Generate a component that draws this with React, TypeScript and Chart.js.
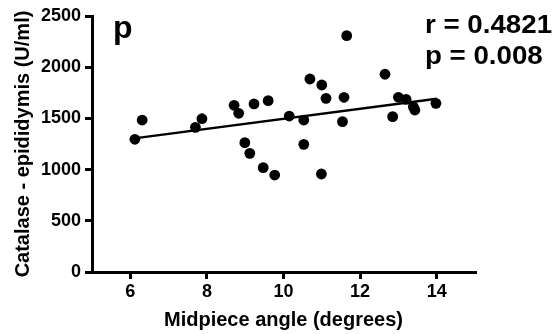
import React, { useEffect, useRef } from "react";
import { Chart, registerables } from "chart.js";

Chart.register(...registerables);

// Scatter data: midpiece angle (degrees) vs catalase - epididymis (U/ml)
const angle = [
  6.12, 6.31, 7.70, 7.87, 8.71, 8.83, 9.23, 9.60, 8.99, 9.12, 9.47, 9.77,
  10.15, 10.53, 10.53, 10.69, 11.0, 11.11, 10.99, 11.54, 11.58, 11.65,
  12.65, 12.85, 13.0, 13.2, 13.39, 13.43, 13.98,
];
const catalase = [
  1296, 1484, 1413, 1497, 1628, 1550, 1641, 1673, 1263, 1159, 1019, 947,
  1523, 1484, 1247, 1885, 1826, 1696, 957, 1468, 1706, 2308,
  1931, 1517, 1706, 1686, 1614, 1582, 1647,
];

// Regression line endpoints
const fitX = [6.0, 14.0];
const fitY = [1300, 1692];

const xTicks = [6, 8, 10, 12, 14];
const yTicks = [0, 500, 1000, 1500, 2000, 2500];

const panelLabel = "p";
const statLines = ["r = 0.4821", "p = 0.008"];

const FONT = "'Liberation Sans', Arial, sans-serif";

Chart.defaults.font.family = FONT;
Chart.defaults.font.weight = "bold" as any;
Chart.defaults.color = "#000";

export default function App() {
  const ref = useRef<HTMLCanvasElement | null>(null);

  useEffect(() => {
    if (!ref.current) return;
    const textPlugin = {
      id: "annot",
      afterDraw(chart: any) {
        const ctx = chart.ctx;
        ctx.save();
        ctx.fillStyle = "#000";
        ctx.textAlign = "left";
        ctx.textBaseline = "alphabetic";
        ctx.font = `bold 32px ${FONT}`;
        ctx.fillText(panelLabel, 113, 37.5);
        ctx.translate(425, 0);
        ctx.scale(1.065, 1);
        ctx.font = `bold 26px ${FONT}`;
        ctx.fillText(statLines[0], 0, 33);
        ctx.fillText(statLines[1], 0, 64);
        ctx.restore();
      },
    };

    const tickFont = { family: FONT, size: 18, weight: "bold" as any };
    const titleFont = { family: FONT, size: 20, weight: "bold" as any };

    const chart = new Chart(ref.current, {
      type: "scatter",
      data: {
        datasets: [
          {
            type: "line",
            data: fitX.map((x, i) => ({ x, y: fitY[i] })),
            borderColor: "#000",
            borderWidth: 2.5,
            pointRadius: 0,
            fill: false,
          } as any,
          {
            data: angle.map((x, i) => ({ x, y: catalase[i] })),
            backgroundColor: "#000",
            borderWidth: 0,
            pointRadius: 5.4,
          },
        ],
      },
      options: {
        animation: false,
        responsive: false,
        events: [],
        layout: { padding: { top: 16, right: 85, left: 0, bottom: 0 } },
        plugins: { legend: { display: false }, tooltip: { enabled: false } },
        scales: {
          x: {
            type: "linear",
            min: 5,
            max: 15,
            afterBuildTicks: (s: any) => {
              s.ticks = xTicks.map((v) => ({ value: v }));
            },
            afterFit: (s: any) => {
              s.height = 62;
            },
            grid: {
              drawOnChartArea: false,
              drawTicks: true,
              tickLength: 7,
              lineWidth: 3,
              color: "#000",
            },
            border: { display: true, width: 3, color: "#000" },
            ticks: {
              color: "#000",
              font: tickFont,
              padding: 2,
              maxRotation: 0,
              callback: (v: any) => String(v),
            },
            title: {
              display: true,
              text: "Midpiece angle (degrees)",
              color: "#000",
              font: titleFont,
              padding: { top: 0, bottom: 2 },
            },
          },
          y: {
            type: "linear",
            min: 0,
            max: 2500,
            afterBuildTicks: (s: any) => {
              s.ticks = yTicks.map((v) => ({ value: v }));
            },
            afterFit: (s: any) => {
              s.width = 92;
            },
            grid: {
              drawOnChartArea: false,
              drawTicks: true,
              tickLength: 7,
              lineWidth: 3,
              color: "#000",
            },
            border: { display: true, width: 3, color: "#000" },
            ticks: {
              color: "#000",
              font: tickFont,
              padding: 4,
              callback: (v: any) => String(v),
            },
            title: {
              display: true,
              text: "Catalase - epididymis (U/ml)",
              color: "#000",
              font: titleFont,
              padding: { top: 11, bottom: 0 },
            },
          },
        },
      },
      plugins: [textPlugin],
    } as any);
    return () => chart.destroy();
  }, []);

  return (
    <div style={{ position: "absolute", left: 0, top: 0, width: 560, height: 334, background: "#fff" }}>
      <canvas ref={ref} width={560} height={334} style={{ width: 560, height: 334, display: "block" }} />
    </div>
  );
}
